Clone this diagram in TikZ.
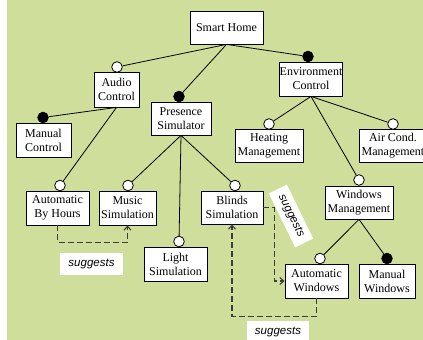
\documentclass[tikz,border=0pt]{standalone}
\usepackage{fontspec}
\setmainfont{Liberation Serif}
\newfontfamily\lblfont{Liberation Sans}
\usetikzlibrary{arrows.meta,calc}
\definecolor{bggreen}{RGB}{208,222,156}
\definecolor{dashgray}{RGB}{60,60,60}
\begin{document}
\begin{tikzpicture}[x=1pt,y=-1pt,
  feat/.style={draw=black,line width=0.8pt,fill=white,inner sep=0pt,align=center,
    font=\fontsize{12}{14}\selectfont},
  optc/.style={circle,draw=black,line width=0.8pt,fill=white,minimum size=10.6pt,inner sep=0pt},
  mandc/.style={circle,draw=black,line width=0.8pt,fill=black,minimum size=10.6pt,inner sep=0pt},
  conn/.style={line width=0.8pt,black},
  sugg/.style={dashgray,line width=1.1pt,dash pattern=on 6pt off 3pt,-{Straight Barb[length=4pt,width=7pt]}},
  lbl/.style={fill=white,inner sep=0pt,font=\lblfont\itshape\fontsize{11.5}{13}\selectfont}
]
\useasboundingbox (0,0) rectangle (423,340);
\begin{scope}
\clip (0,0) rectangle (423,340);
\fill[bggreen] (7,0) rectangle (423,340);

% features
\node[feat,minimum width=73pt,minimum height=33pt] (sh) at (226.5,27.5) {Smart Home};
\node[feat,minimum width=45pt,minimum height=35pt] (ac) at (116.5,89.5) {Audio\\Control};
\node[feat,minimum width=60pt,minimum height=33pt] (ps) at (181,118.5) {Presence\\Simulator};
\node[feat,minimum width=55pt,minimum height=34pt] (mc) at (43.5,140) {Manual\\Control};
\node[feat,minimum width=62pt,minimum height=34pt] (ec) at (311,79) {Environment\\Control};
\node[feat,minimum width=68pt,minimum height=33pt] (hm) at (269,145.5) {Heating\\Management};
\node[feat,minimum width=68pt,minimum height=33pt] (acm) at (393,145.5) {Air Cond.\\Management};
\node[feat,minimum width=63pt,minimum height=34pt] (abh) at (57.5,208) {Automatic\\By Hours};
\node[feat,minimum width=57pt,minimum height=34pt] (ms) at (127.5,208) {Music\\Simulation};
\node[feat,minimum width=63pt,minimum height=34pt] (ls) at (175.5,264) {Light\\Simulation};
\node[feat,minimum width=62pt,minimum height=33pt] (bs) at (232,207.5) {Blinds\\Simulation};
\node[feat,minimum width=68pt,minimum height=33pt] (wm) at (359,202.5) {Windows\\Management};
\node[feat,minimum width=63pt,minimum height=34pt] (aw) at (316.5,281) {Automatic\\Windows};
\node[feat,minimum width=56pt,minimum height=34pt] (mw) at (387,281) {Manual\\Windows};

% circles
\node[optc] (cac) at (117,67) {};
\node[mandc] (cps) at (179,96.5) {};
\node[mandc] (cmc) at (43,117.5) {};
\node[mandc] (cec) at (308,56.5) {};
\node[optc] (chm) at (269,124) {};
\node[optc] (cacm) at (393,124) {};
\node[optc] (cabh) at (60,185.5) {};
\node[optc] (cms) at (128,185.5) {};
\node[optc] (cls) at (179,241.5) {};
\node[optc] (cbs) at (235,185.5) {};
\node[optc] (cwm) at (359,180) {};
\node[optc] (caw) at (320,258.5) {};
\node[mandc] (cmw) at (387,258.5) {};

% connectors
\draw[conn] (sh.south) -- (cac);
\draw[conn] (sh.south) -- (cps);
\draw[conn] (sh.south) -- (cec);
\draw[conn] (ac.south) -- (cmc);
\draw[conn] (ac.south) -- (cabh);
\draw[conn] (ps.south) -- (cms);
\draw[conn] (ps.south) -- (cls);
\draw[conn] (ps.south) -- (cbs);
\draw[conn] (ec.south) -- (chm);
\draw[conn] (ec.south) -- (cacm);
\draw[conn] (ec.south) -- (cwm);
\draw[conn] (wm.south) -- (caw);
\draw[conn] (wm.south) -- (cmw);

% suggests relations
\draw[sugg] (abh.south) -- ++(0,17) -| (ms.south);
\draw[sugg] (bs.east) -- ++(11,0) |- (aw.west);
\draw[sugg] (aw.south) -- ++(0,18) -| (bs.south);

\node[lbl,minimum width=63pt,minimum height=22pt] (l1) at (91.5,264) {suggests};
\node[lbl,minimum width=60pt,minimum height=20pt,rotate=-64] (l2) at (291,216) {suggests};
\node[lbl,minimum width=62pt,minimum height=22pt] (l3) at (278,332) {suggests};
\end{scope}
\end{tikzpicture}
\end{document}
